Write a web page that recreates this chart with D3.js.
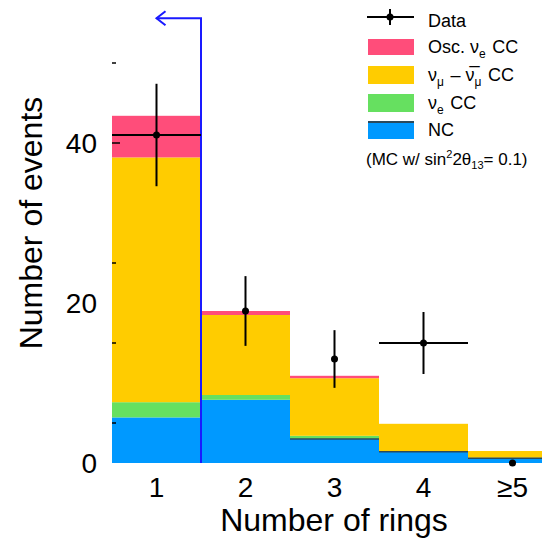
<!DOCTYPE html>
<html>
<head>
<meta charset="utf-8">
<script src="https://cdn.jsdelivr.net/npm/d3@7"></script>
<style>
html,body{margin:0;padding:0;background:#fff;overflow:hidden;}
svg{display:block;font-family:"Liberation Sans",Arial,Helvetica,sans-serif;}
</style>
</head>
<body>
<svg id="chart" width="542" height="539"></svg>
<script>
// ---- data ----
const categories = ["1", "2", "3", "4", "\u22655"];
const binCenters = [1, 2, 3, 4, 5];
const ncValues     = [5.7, 7.9, 3.0, 1.4, 0.6];
const nueCCValues  = [1.9, 0.6, 0.4, 0.1, 0.05];
const numuCCValues = [30.6, 10.0, 7.2, 3.4, 0.85];
const oscNueValues = [5.2, 0.5, 0.3, 0.0, 0.0];
const dataValues   = [41, 19, 13, 15, 0];
const dataXErr     = [true, false, false, true, false];
const yTickLabels  = [0, 20, 40];
const yTickMarks   = [5, 15, 25, 40, 50];
const cutValue = 1.5, arrowTip = 1.0, arrowLevel = 55.6;

const legendItems = [
  {key: "osc", label: "Osc. \u03BD<sub>e</sub> CC"},
  {key: "numu", label: "\u03BD<sub>\u03BC</sub> \u2013 \u03BD\u0305<sub>\u03BC</sub> CC"},
  {key: "nue", label: "\u03BD<sub>e</sub> CC"},
  {key: "nc", label: "NC"}
];

const colors = {nc: "#0099ff", nue: "#66e060", numu: "#ffcc00", osc: "#ff4d7a"};

// ---- scales ----
const svg = d3.select("#chart");
const x = d3.scaleLinear().domain([0.5, 5.5]).range([112, 557]);
const y = d3.scaleLinear().domain([0, 50]).range([463, 63]);

// stacked data
const rows = binCenters.map((c, i) => ({
  c, nc: ncValues[i], nue: nueCCValues[i], numu: numuCCValues[i], osc: oscNueValues[i]
}));
const stack = d3.stack().keys(["nc", "nue", "numu", "osc"])(rows);

const gBars = svg.append("g");
stack.forEach(layer => {
  gBars.selectAll(null).data(layer).join("rect")
    .attr("x", d => x(d.data.c - 0.5))
    .attr("width", d => x(d.data.c + 0.5) - x(d.data.c - 0.5))
    .attr("y", d => y(d[1]))
    .attr("height", d => Math.max(0, y(d[0]) - y(d[1])))
    .attr("fill", colors[layer.key]);
});
// dark outline at top of NC where thin components sit on it
gBars.selectAll(null).data(rows.filter((d, i) => i >= 2)).join("line")
  .attr("x1", d => x(d.c - 0.5)).attr("x2", d => x(d.c + 0.5))
  .attr("y1", d => y(d.nc)).attr("y2", d => y(d.nc))
  .attr("stroke", "#2b4a5c").attr("stroke-width", 1.5);

// y ticks (marks + labels)
svg.append("g").selectAll(null).data(yTickMarks).join("line")
  .attr("x1", 112).attr("x2", d => yTickLabels.includes(d) ? 120 : 116)
  .attr("y1", d => y(d)).attr("y2", d => y(d))
  .attr("stroke", "#000").attr("stroke-width", 1.5);
svg.append("g").selectAll(null).data(yTickLabels).join("text")
  .attr("x", 97).attr("y", d => y(d) + 10)
  .attr("text-anchor", "end").attr("font-size", 28).text(d => d);

// x tick labels
svg.append("g").selectAll(null).data(categories).join("text")
  .attr("x", (d, i) => x(binCenters[i])).attr("y", 497)
  .attr("text-anchor", "middle").attr("font-size", 28).text(d => d);

// axis titles
svg.append("text").attr("x", 334).attr("y", 531).attr("text-anchor", "middle")
  .attr("font-size", 32).text("Number of rings");
svg.append("text").attr("transform", "translate(42,223) rotate(-90)")
  .attr("text-anchor", "middle").attr("font-size", 32).text("Number of events");

// blue cut line + arrow
const blue = "#1a1aff";
svg.append("path")
  .attr("d", `M${x(cutValue)},${y(0)} L${x(cutValue)},${y(arrowLevel)} L${x(arrowTip)},${y(arrowLevel)}`)
  .attr("fill", "none").attr("stroke", blue).attr("stroke-width", 2);
svg.append("path")
  .attr("d", `M${x(arrowTip) + 9},${y(arrowLevel) - 7} L${x(arrowTip)},${y(arrowLevel)} L${x(arrowTip) + 9},${y(arrowLevel) + 7}`)
  .attr("fill", "none").attr("stroke", blue).attr("stroke-width", 2);

// data points
const gData = svg.append("g");
dataValues.forEach((v, i) => {
  const c = binCenters[i];
  const e = Math.sqrt(v);
  if (v > 0) {
    gData.append("line").attr("x1", x(c)).attr("x2", x(c))
      .attr("y1", y(v - e)).attr("y2", y(v + e)).attr("stroke", "#000").attr("stroke-width", 2);
  }
  if (dataXErr[i]) {
    gData.append("line").attr("x1", x(c - 0.5)).attr("x2", x(c + 0.5))
      .attr("y1", y(v)).attr("y2", y(v)).attr("stroke", "#000").attr("stroke-width", 2);
  }
  gData.append("circle").attr("cx", x(c)).attr("cy", y(v)).attr("r", 3.5).attr("fill", "#000");
});

// legend
const lg = svg.append("g");
lg.append("line").attr("x1", 367).attr("x2", 414).attr("y1", 17).attr("y2", 17)
  .attr("stroke", "#000").attr("stroke-width", 2);
lg.append("line").attr("x1", 390).attr("x2", 390).attr("y1", 9).attr("y2", 25)
  .attr("stroke", "#000").attr("stroke-width", 2);
lg.append("circle").attr("cx", 390).attr("cy", 17).attr("r", 3.5).attr("fill", "#000");
lg.append("text").attr("x", 428).attr("y", 27).attr("font-size", 18).text("Data");

const boxY = [39, 66, 94, 121];
const boxH = [16, 18, 18, 18];
legendItems.forEach((it, i) => {
  lg.append("rect").attr("x", 368).attr("y", boxY[i]).attr("width", 46).attr("height", boxH[i])
    .attr("fill", colors[it.key]);
  const t = lg.append("text").attr("x", 428).attr("y", boxY[i] + boxH[i] / 2 + 6).attr("font-size", 18);
  const parts = it.label.split(/(<sub>.*?<\/sub>)/);
  parts.forEach(p => {
    if (!p) return;
    const m = p.match(/<sub>(.*?)<\/sub>/);
    if (m) {
      t.append("tspan").attr("dy", 5).attr("font-size", 12).text(m[1]);
      t.append("tspan").attr("dy", -5).text("\u200A");
    } else {
      t.append("tspan").text(p);
    }
  });
});
lg.append("line").attr("x1", 368).attr("x2", 414).attr("y1", 122).attr("y2", 122)
  .attr("stroke", "#2b4a5c").attr("stroke-width", 2);

const note = lg.append("text").attr("x", 366).attr("y", 165).attr("font-size", 17);
note.append("tspan").text("(MC w/ sin");
note.append("tspan").attr("dy", -7).attr("font-size", 11).text("2");
note.append("tspan").attr("dy", 7).text("2\u03B8");
note.append("tspan").attr("dy", 4).attr("font-size", 11).text("13");
note.append("tspan").attr("dy", -4).text("= 0.1)");
</script>
</body>
</html>
